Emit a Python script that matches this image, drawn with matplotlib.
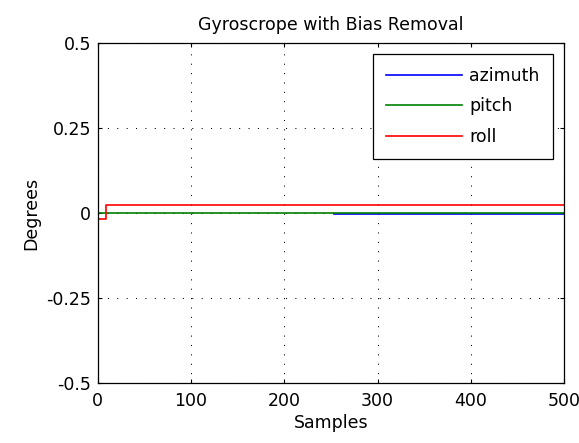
import numpy as np
import matplotlib
matplotlib.use("Agg")
import matplotlib.pyplot as plt

plt.rcParams['font.family'] = ['DejaVu Sans']
plt.rcParams['font.size'] = 12

# step-shaped traces
azimuth_x = [253, 500]
azimuth_y = [-0.004, -0.004]
pitch_x = [0, 500]
pitch_y = [0.0, 0.0]
roll_x = [0, 9, 9, 500]
roll_y = [-0.018, -0.018, 0.023, 0.023]

xticks = [0, 100, 200, 300, 400, 500]
yticks = [-0.5, -0.25, 0, 0.25, 0.5]
yticklabels = ['-0.5', '-0.25', '0', '0.25', '0.5']

fig = plt.figure(figsize=(5.79, 4.43), dpi=100)
ax = fig.add_axes([0.169, 0.135, 0.805, 0.768])

ax.plot(azimuth_x, azimuth_y, color='#0000ff', lw=1.2, label='azimuth')
ax.plot(pitch_x, pitch_y, color='#008000', lw=1.2, label='pitch')
ax.plot(roll_x, roll_y, color='#ff0000', lw=1.2, label='roll')

ax.set_xlim(0, 500)
ax.set_ylim(-0.5, 0.5)
ax.set_xticks(xticks)
ax.set_yticks(yticks)
ax.set_yticklabels(yticklabels)
ax.tick_params(direction='in', top=True, right=True, length=3, labelsize=12.5)
ax.tick_params(axis='y', pad=5)
ax.tick_params(axis='x', pad=6)
ax.grid(True, color='black', linestyle=(0, (1, 8)), linewidth=0.75)
for s in ax.spines.values():
    s.set_linewidth(0.9)

ax.set_xlabel('Samples', fontsize=12.5, labelpad=3)
ax.set_ylabel('Degrees', fontsize=12.5, labelpad=4)
ax.set_title('Gyroscrope with Bias Removal', fontsize=12.5, pad=9)

leg = ax.legend(loc='upper right', fontsize=12.5, fancybox=False, framealpha=1,
                edgecolor='black', handlelength=4.4, handletextpad=0.4,
                labelspacing=0.7, borderpad=0.75, borderaxespad=0.65)
leg.get_frame().set_linewidth(0.9)

fig.savefig('out.png', dpi=100)
